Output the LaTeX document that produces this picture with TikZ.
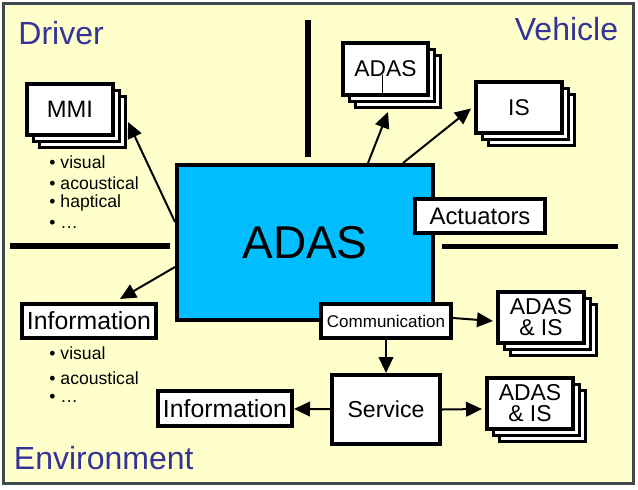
\documentclass[tikz,border=0pt]{standalone}
\usepackage{fontspec}
\setmainfont{Liberation Sans}
\usetikzlibrary{arrows.meta,calc,shadows}

\tikzset{
	box/.style={draw, fill=white, line width=3pt, inner sep=0pt},
	stack/.style={box, minimum width=64.5pt, minimum height=38.25pt,
		copy shadow={shadow xshift=9pt, shadow yshift=-9pt, fill=white, draw=black, line width=2.25pt},
		copy shadow={shadow xshift=4.5pt, shadow yshift=-4.5pt, fill=white, draw=black, line width=2.25pt}},
	zone/.style={text={rgb, 255:red, 51; green, 51; blue, 153}, font=\fontsize{24}{28}\selectfont},
	bul/.style={anchor=base west, font=\fontsize{13.2}{15}\selectfont},
	arr/.style={-{Triangle[length=12pt,width=11pt]}, line width=1.5pt},
	wall/.style={line width=4pt}}
\tikzset{every picture/.style={line width=0.75pt}}

\begin{document}
\begin{tikzpicture}[x=0.75pt,y=0.75pt,yscale=-1,xscale=1]
	\useasboundingbox (0,0) rectangle (638,489);

	%Shape: Rectangle
	\draw  [draw={rgb, 255:red, 64; green, 72; blue, 80 }, fill={rgb, 255:red, 255; green, 255; blue, 204 }, line width=1.9pt] (3.5,3.5) rectangle (633.5,483.5) ;
	%Straight Lines
	\draw  [wall] (308,20) -- (308,157) ;
	\draw  [wall] (10,246) -- (170,246) ;
	\draw  [wall] (442,246.5) -- (618,246.5) ;

	%Shape: Rectangle
	\node [box, fill={rgb, 255:red, 0; green, 190; blue, 255 }, minimum width=192pt, minimum height=116.25pt, font=\fontsize{34.5}{40}\selectfont] (main) at (305,242.5) {ADAS};
	\node [stack, font=\fontsize{17.8}{20}\selectfont] (mmi) at (70,109.5) {MMI};
	\node [stack, minimum width=63.75pt, minimum height=39pt, font=\fontsize{17.1}{20}\selectfont] (adasv) at (385.5,69) {ADAS};
	\node [stack, font=\fontsize{17.1}{20}\selectfont] (is) at (519,107.5) {IS};
	\node [box, minimum width=97.5pt, minimum height=25.5pt, font=\fontsize{17.9}{20}\selectfont] (act) at (480,216) {Actuators};
	\node [box, minimum width=100.5pt, minimum height=25.5pt, font=\fontsize{18.6}{20}\selectfont] (info1) at (89,321) {Information};
	\node [box, minimum width=97.5pt, minimum height=25.5pt, font=\fontsize{12.75}{15}\selectfont] (comm) at (386,321) {Communication};
	\node [stack, align=center, font=\fontsize{17.2}{15.75}\selectfont] (adasis1) at (541,317.5) {ADAS\\\& IS};
	\node [box, minimum width=81pt, minimum height=51.75pt, font=\fontsize{17.3}{20}\selectfont] (serv) at (386,409.5) {Service};
	\node [stack, align=center, font=\fontsize{17.2}{15.75}\selectfont] (adasis2) at (530,403.5) {ADAS\\\& IS};
	\node [box, minimum width=100.5pt, minimum height=26.25pt, font=\fontsize{18.6}{20}\selectfont] (info2) at (225,408.5) {Information};
	\draw  [line width=0.5pt] ($(adasv.center)+(-3.5,6)$) -- ($(adasv.south)+(-3.5,0)$) ;

	%Straight Lines
	\draw  [arr] ($(main.west)+(0,-20.5)$) -- ($(mmi.east)+(13,12.5)$) ;
	\draw  [arr] ($(main.north)+(63,0)$) -- ($(adasv.south)+(2.5,15)$) ;
	\draw  [arr] ($(main.north)+(98,0)$) -- ($(is.west)+(-3,1)$) ;
	\draw  [arr] ($(main.west)+(0,24.5)$) -- ($(info1.north)+(31,-3)$) ;
	\draw  [arr] ($(comm.east)+(0,-3)$) -- ($(adasis1.west)+(-3,3.5)$) ;
	\draw  [arr] (comm) -- (serv) ;
	\draw  [arr] (serv.east) -- ($(adasis2.west)+(-3,5.5)$) ;
	\draw  [arr] (serv) -- (info2) ;

	% Text Node
	\draw (13.5,44) node [zone, anchor=base west] (drv) {Driver};
	% Text Node
	\draw (623,40) node [zone, anchor=base east] (veh) {Vehicle};
	% Text Node
	\draw (9,469) node [zone, anchor=base west] (env) {Environment};
	% Text Node
	\draw (44.5,168) node [bul] (mmiA) {\textbullet\ visual};
	\draw (44.5,189) node [bul] (mmiB) {\textbullet\ acoustical};
	\draw (44.5,207) node [bul] (mmiC) {\textbullet\ haptical};
	\draw (44.5,228) node [bul] (mmiD) {\textbullet\ \ldots};
	% Text Node
	\draw (44.5,359) node [bul] (infA) {\textbullet\ visual};
	\draw (44.5,384) node [bul] (infB) {\textbullet\ acoustical};
	\draw (44.5,402) node [bul] (infC) {\textbullet\ \ldots};

\end{tikzpicture}
\end{document}
